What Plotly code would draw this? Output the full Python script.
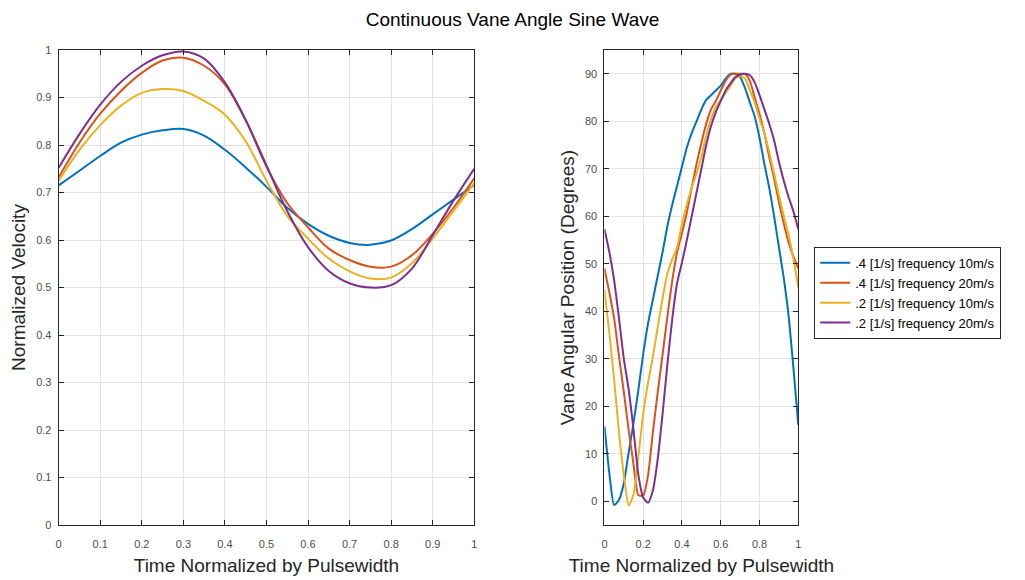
import plotly.graph_objects as go

# ---------------- data ----------------
t_left = [round(i * 0.05, 3) for i in range(21)]
vel_04_10 = [0.715, 0.746, 0.777, 0.805, 0.822, 0.831, 0.834, 0.820, 0.790, 0.753, 0.712,
             0.668, 0.634, 0.609, 0.594, 0.590, 0.599, 0.623, 0.654, 0.685, 0.716]
vel_04_20 = [0.732, 0.805, 0.866, 0.914, 0.952, 0.978, 0.984, 0.967, 0.928, 0.852, 0.755,
             0.678, 0.627, 0.582, 0.558, 0.544, 0.544, 0.568, 0.613, 0.668, 0.730]
vel_02_10 = [0.725, 0.790, 0.842, 0.883, 0.910, 0.918, 0.914, 0.893, 0.864, 0.808, 0.725,
             0.651, 0.603, 0.561, 0.534, 0.519, 0.521, 0.551, 0.603, 0.661, 0.720]
vel_02_20 = [0.752, 0.823, 0.885, 0.933, 0.967, 0.989, 0.997, 0.982, 0.932, 0.853, 0.757,
             0.661, 0.585, 0.535, 0.509, 0.500, 0.505, 0.540, 0.610, 0.683, 0.750]

t_right = [round(i * 0.025, 3) for i in range(41)]
ang_04_10 = [15.8, 6, -0.8, 0.3, 3.8, 10.3, 16.5, 23.5, 31, 37.5, 42.5, 47.5, 52.5, 58, 62.5,
             66.5, 70.5, 74.5, 77.5, 80, 82.5, 84.5, 85.5, 86.5, 87.5, 89, 90, 90, 89.3, 87,
             84, 81, 76.5, 71, 66, 60, 53.5, 47, 39, 28, 16]
ang_04_20 = [49, 44, 38.5, 30.5, 23, 15, 7.7, 1.3, 1.2, 5.5, 14.6, 23, 31, 39, 46.5,
             52.5, 56.5, 60.8, 66, 71, 75.5, 79.5, 82.5, 84.3, 86.5, 88.5, 89.8, 90, 90, 90,
             88.5, 85, 81.5, 77.5, 72.5, 68, 63, 58.5, 54.5, 51.5, 49]
ang_02_10 = [44.5, 35.5, 25.5, 14.5, 5.5, -0.9, 1.5, 9.5, 18.5, 25, 30.5, 36.7, 42.8, 48, 51,
             53.5, 58.5, 62.5, 66, 69, 72.5, 77, 80.5, 83, 84.5, 86, 87.5, 89, 89.5, 89,
             86.5, 84, 80.5, 77.5, 73.5, 69, 64.5, 60, 56, 51, 45]
ang_02_20 = [57.3, 52.5, 46.5, 38.5, 30, 23.5, 15, 5.5, 0.8, -0.3, 2.3, 9, 18.5, 29, 38.5,
             46, 50.3, 55, 60, 65, 70, 75, 79, 82, 84.3, 86.5, 88, 89.3, 89.8, 90,
             89.7, 88.2, 85.5, 82.5, 79.5, 76, 71.5, 67.5, 64, 61, 57.3]

series_names = [".4 [1/s] frequency 10m/s", ".4 [1/s] frequency 20m/s",
                ".2 [1/s] frequency 10m/s", ".2 [1/s] frequency 20m/s"]
colors = ["#0072BD", "#D95319", "#EDB120", "#7E2F8E"]

left_x_ticks = [0, 0.1, 0.2, 0.3, 0.4, 0.5, 0.6, 0.7, 0.8, 0.9, 1]
left_x_labels = ["0", "0.1", "0.2", "0.3", "0.4", "0.5", "0.6", "0.7", "0.8", "0.9", "1"]
left_y_ticks = [0, 0.1, 0.2, 0.3, 0.4, 0.5, 0.6, 0.7, 0.8, 0.9, 1]
left_y_labels = ["0", "0.1", "0.2", "0.3", "0.4", "0.5", "0.6", "0.7", "0.8", "0.9", "1"]
right_x_ticks = [0, 0.2, 0.4, 0.6, 0.8, 1]
right_x_labels = ["0", "0.2", "0.4", "0.6", "0.8", "1"]
right_y_ticks = [0, 10, 20, 30, 40, 50, 60, 70, 80, 90]

# ---------------- figure ----------------
W, H = 1025, 580
fig = go.Figure()

left_series = [vel_04_10, vel_04_20, vel_02_10, vel_02_20]
right_series = [ang_04_10, ang_04_20, ang_02_10, ang_02_20]

for name, col, ys in zip(series_names, colors, left_series):
    fig.add_trace(go.Scatter(x=t_left, y=ys, mode="lines", name=name,
                             line=dict(color=col, width=2, shape="spline", smoothing=1),
                             showlegend=False, xaxis="x", yaxis="y"))
for name, col, ys in zip(series_names, colors, right_series):
    fig.add_trace(go.Scatter(x=t_right, y=ys, mode="lines", name=name,
                             line=dict(color=col, width=2, shape="spline", smoothing=0.6),
                             showlegend=True, xaxis="x2", yaxis="y2"))

FONT = "Liberation Sans, Arial, Helvetica, sans-serif"
axis_common = dict(
    showline=True, linecolor="#262626", linewidth=1, mirror="ticks",
    ticks="inside", ticklen=5, tickcolor="#262626",
    showgrid=True, gridcolor="#e3e3e3", gridwidth=1, zeroline=False,
    tickfont=dict(family=FONT, size=11, color="#4d4d4d"),
)
xaxis_extra = dict(ticklabelstandoff=9)
yaxis_extra = dict(ticklabelstandoff=4)
title_font = dict(family=FONT, size=19, color="#262626")

ydom = [1 - 530 / H, 1 - 45 / H]

fig.update_layout(
    width=W, height=H,
    margin=dict(l=0, r=0, t=0, b=0),
    paper_bgcolor="white", plot_bgcolor="white",
    font=dict(family=FONT, color="#262626"),
    title=dict(text="Continuous Vane Angle Sine Wave", x=0.5, xanchor="center",
               y=1 - 19 / H, yanchor="middle",
               font=dict(family=FONT, size=19, color="#000000")),
    xaxis=dict(domain=[56 / W, 474 / W], range=[0, 1], tickvals=left_x_ticks,
               ticktext=left_x_labels, anchor="y",
               title=dict(text="Time Normalized by Pulsewidth", standoff=9, font=title_font),
               **axis_common, **xaxis_extra),
    yaxis=dict(domain=ydom, range=[0, 1], tickvals=left_y_ticks,
               ticktext=left_y_labels, anchor="x",
               title=dict(text="Normalized Velocity", standoff=5, font=title_font),
               **axis_common, **yaxis_extra),
    xaxis2=dict(domain=[605 / W, 800 / W], range=[0, 1], tickvals=right_x_ticks,
                ticktext=right_x_labels, anchor="y2",
                title=dict(text="Time Normalized by Pulsewidth", standoff=9, font=title_font),
                **axis_common, **xaxis_extra),
    yaxis2=dict(domain=ydom, range=[-5, 95], tickvals=right_y_ticks, anchor="x2",
                title=dict(text="Vane Angular Position (Degrees)", standoff=5, font=title_font),
                **axis_common, **yaxis_extra),
    legend=dict(x=816 / W, y=1 - 246 / H, xanchor="left", yanchor="top",
                bordercolor="#262626", borderwidth=1, bgcolor="white",
                font=dict(family=FONT, size=13, color="#000000"),
                tracegroupgap=0, itemwidth=30),
)

fig.write_html("out.html")
